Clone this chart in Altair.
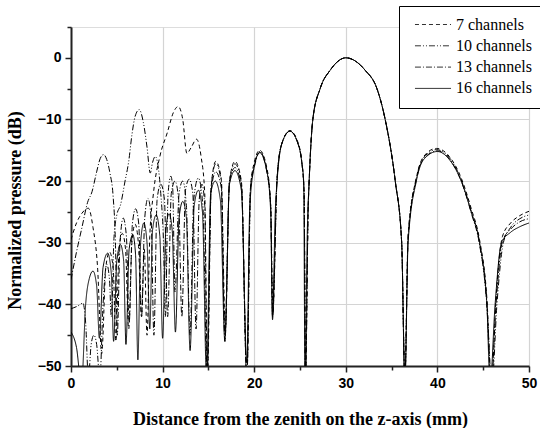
import altair as alt
import pandas as pd

# ---- data ----
series_names = ["7 channels", "10 channels", "13 channels", "16 channels"]

x_7 = [0, 0.6, 1.2, 1.9, 2.4, 2.9, 3.35, 3.8, 4.2, 4.6, 4.9, 5.25, 5.6, 5.95, 6.3, 6.65, 7.0, 7.35, 7.7, 8.0, 8.3,
       8.6, 9.0, 9.7, 10.5, 11.2, 11.7, 12.2, 12.65, 13.1, 13.7, 14.2, 14.6, 14.9, 15.3, 15.8, 16.4, 16.85, 17.3,
       17.9, 18.6, 19.2, 19.6, 20.0, 20.6, 21.4, 21.8, 22.05, 22.5, 23.0, 23.9, 24.7, 25.2, 25.45, 25.6, 25.9,
       26.0, 26.4, 27.2, 28.3, 30.0, 32.1, 33.4, 34.3, 35.4, 36.1, 36.45, 36.8, 37.7, 38.5, 39.9, 41.3, 42.6,
       43.7, 44.6, 45.4, 45.9, 46.4, 47.1, 48.0, 49.0, 50.0]
y_7 = [-29.5, -26.8, -25.2, -24.4, -27.5, -34, -48, -34, -31.5, -34, -46, -31, -28.5, -31, -44, -30, -27, -30, -42,
       -31, -45, -29, -22, -16, -12.2, -8.8, -7.9, -10, -15.5, -14.6, -13.2, -16, -22, -52, -21, -16.8, -19.5, -44,
       -20, -16.8, -20, -52, -21, -17, -15.0, -18, -24, -41, -19.5, -14, -11.8, -13.4, -17, -22, -52, -24,
       -20, -10, -5, -2, 0, -2, -5, -10, -20, -30, -52, -29, -19.5, -16, -14.7, -16, -19.5,
       -24.5, -29.5, -39, -53, -39, -29, -26.8, -25.6, -24.9]

x_10 = [0, 0.7, 1.3, 1.6, 1.9, 2.2, 2.5, 2.8, 3.15, 3.5, 3.9, 4.2, 4.4, 4.7, 5.0, 5.4, 5.9, 6.3, 6.65, 7.0, 7.45,
        7.9, 8.3, 8.65, 8.9, 9.2, 9.5, 9.8, 10.1, 10.3, 10.6, 10.9, 11.1, 11.35, 11.8, 12.2, 12.6, 13.0, 13.4, 13.9,
        14.4, 14.85, 15.3, 15.8, 16.4, 16.8, 17.3, 17.9, 18.6, 19.2, 19.6, 20.0, 20.6, 21.4, 21.8, 22.0, 22.5,
        23.0, 23.9, 24.7, 25.2, 25.45, 25.6, 25.9, 26.0, 26.4, 27.2, 28.3, 30.0, 32.1, 33.4, 34.3, 35.4, 36.1,
        36.45, 36.8, 37.7, 38.5, 39.9, 41.3, 42.6, 43.7, 44.6, 45.4, 45.95, 46.5, 47.2, 48.0, 49.0, 50.0]
y_10 = [-40.7, -40.3, -39.8, -43, -52, -46.5, -45, -46.5, -52, -40, -33.5, -36, -42, -29, -25.5, -23.9, -20, -16.8,
        -12.5, -9.5, -8.4, -10.5, -14.5, -18.7, -17, -16, -17.5, -22, -30, -42, -22, -19.2, -21, -38, -22, -20,
        -24, -45, -23, -19.5, -24, -52, -21, -17.2, -20, -45, -20, -17.2, -20.3, -52, -21, -17.5, -15.2, -18.5,
        -24, -42, -19.5, -14, -11.9, -13.6, -17, -22, -52, -24, -20, -10, -5, -2, 0, -2, -5, -10, -20, -30,
        -52, -29, -19.5, -16.2, -14.9, -16.2, -19.8, -25, -30, -40, -53, -40, -30, -27.5, -26.1, -25.5]

x_13 = [0, 0.6, 1.2, 1.8, 2.3, 2.8, 3.2, 3.55, 3.9, 4.25, 4.6, 4.85, 5.05, 5.35, 5.7, 6.05, 6.35, 6.7, 7.05, 7.4,
        7.7, 8.05, 8.4, 8.75, 9.05, 9.4, 9.8, 10.2, 10.55, 10.95, 11.35, 11.75, 12.1, 12.5, 12.9, 13.3, 13.65,
        14.0, 14.3, 14.6, 14.85, 15.3, 15.8, 16.4, 16.8, 17.3, 17.9, 18.6, 19.2, 19.6, 20.0, 20.6, 21.4, 21.8,
        22.0, 22.5, 23.0, 23.9, 24.7, 25.2, 25.45, 25.6, 25.9, 26.0, 26.4, 27.2, 28.3, 30.0, 32.1, 33.4, 34.3,
        35.4, 36.1, 36.45, 36.8, 37.7, 38.5, 40.0, 41.3, 42.6, 43.7, 44.6, 45.4, 45.85, 46.4, 47.1, 48.0, 49.0, 50.0]
y_13 = [-36, -31.5, -27.5, -23.5, -21.7, -18.5, -16.3, -15.7, -16.5, -18.7, -22.5, -30, -45, -30, -26, -29, -43,
        -27, -24.5, -27, -42, -26, -22.8, -26, -45, -23, -20.5, -23, -42, -22, -20, -23, -42, -21.5, -19.7, -22,
        -44, -23, -20.5, -24, -52, -21.5, -18.5, -21, -46, -20.3, -17.8, -20.8, -52, -21, -17.8, -15.3, -18.7,
        -24, -42, -19.5, -14, -11.9, -13.6, -17, -22, -52, -24, -20, -10, -5, -2, 0, -2, -5, -10,
        -20, -30, -52, -29.5, -19.8, -16.4, -15.1, -16.4, -20, -25.2, -30.3, -40, -53, -40, -29.8, -27.8, -26.6, -26.1]

x_16 = [0, 0.6, 1.15, 1.6, 2.0, 2.4, 2.8, 3.1, 3.5, 4.0, 4.4, 4.65, 5.0, 5.4, 5.75, 6.0, 6.35, 6.75, 7.05, 7.3, 7.6,
        7.95, 8.3, 8.6, 8.9, 9.3, 9.7, 10.0, 10.35, 10.7, 11.05, 11.4, 11.8, 12.2, 12.6, 13.0, 13.45, 13.9, 14.35,
        14.8, 15.25, 15.75, 16.3, 16.8, 17.3, 17.9, 18.6, 19.2, 19.5, 19.9, 20.6, 21.4, 21.8, 22.0, 22.3, 22.5,
        23.0, 23.9, 24.7, 25.2, 25.4, 25.55, 25.8, 26.0, 26.4, 27.2, 28.3, 30.0, 32.1, 33.4, 34.3, 35.4, 36.1,
        36.45, 36.8, 37.7, 38.5, 40.0, 41.3, 42.6, 43.7, 44.6, 45.4, 45.75, 46.3, 47.0, 48.0, 49.0, 50.0]
y_16 = [-44.5, -47, -53, -40, -35.8, -34.6, -37, -45.5, -34, -31.7, -35, -46, -33, -30.3, -33, -46.5, -31, -28.7,
        -32, -49, -30, -26.8, -30, -44, -28, -25.5, -29, -45.5, -28, -25.3, -28, -44.5, -26, -23.3, -26, -47.5,
        -24, -21.5, -25, -52, -22, -20, -23, -46, -20.5, -18.3, -21.5, -49.5, -25, -18.5, -15.4, -18.5, -25,
        -42.5, -25, -20, -14, -11.9, -13.6, -17, -20, -53, -28, -20, -10, -5, -2, 0, -2, -5, -10, -20, -30,
        -53, -30, -20, -16.5, -15.2, -16.5, -20, -25, -30, -40, -53, -40, -30, -28.3, -27.4, -26.8]

x_ticks = [0, 5, 10, 15, 20, 25, 30, 35, 40, 45, 50]
y_ticks = [-50, -45, -40, -35, -30, -25, -20, -15, -10, -5, 0, 5]
dash_styles = [[4, 3], [6, 2, 1, 2, 1, 2], [6, 2, 1, 2], [1, 0]]

rows = []
for name, xs, ys in zip(series_names, [x_7, x_10, x_13, x_16], [y_7, y_10, y_13, y_16]):
    for xv, yv in zip(xs, ys):
        rows.append({"series": name, "x": xv, "y": yv})
df = pd.DataFrame(rows)

major = "datum.value % 10 === 0"

x_axis = alt.Axis(
    values=x_ticks,
    labelExpr="datum.value % 10 === 0 ? datum.label : ''",
    title="Distance from the zenith on the z-axis (mm)",
    titleFont="Liberation Serif", titleFontSize=18, titleFontWeight="bold", titleColor="black",
    titlePadding=20,
    labelFont="Liberation Sans", labelFontSize=14, labelFontWeight="bold", labelColor="black",
    labelPadding=4, labelFlush=False,
    domainColor="#222", domainWidth=2,
    tickColor="#222", tickWidth=1.5,
    tickSize={"condition": {"test": major, "value": 6}, "value": 4},
    grid=True, gridColor="#d4d4d4", gridWidth=1.2,
    gridOpacity={"condition": {"test": major, "value": 1}, "value": 0},
)
y_axis = alt.Axis(
    values=y_ticks,
    labelExpr="datum.value % 10 === 0 && datum.value <= 0 ? datum.label : ''",
    title="Normalized pressure (dB)",
    titleFont="Liberation Serif", titleFontSize=18, titleFontWeight="bold", titleColor="black",
    titlePadding=13, titleY=183,
    labelFont="Liberation Sans", labelFontSize=14, labelFontWeight="bold", labelColor="black",
    labelPadding=4, labelFlush=False,
    domainColor="#222", domainWidth=2,
    tickColor="#222", tickWidth=1.5,
    tickSize={"condition": {"test": major, "value": 6}, "value": 4},
    grid=True, gridColor="#d4d4d4", gridWidth=1.2,
    gridOpacity={"condition": {"test": major + " && datum.value < 0", "value": 1}, "value": 0},
)

chart = alt.Chart(df).mark_line(
    clip=True, interpolate="monotone", color="black", strokeWidth=1
).encode(
    x=alt.X("x:Q", scale=alt.Scale(domain=[0, 50], nice=False), axis=x_axis),
    y=alt.Y("y:Q", scale=alt.Scale(domain=[-50, 5], nice=False, zero=False), axis=y_axis),
    strokeDash=alt.StrokeDash(
        "series:N",
        scale=alt.Scale(domain=series_names, range=dash_styles),
        sort=series_names,
        legend=alt.Legend(
            title=None, orient="none", legendX=328, legendY=-21,
            symbolType="stroke", symbolSize=1300, symbolStrokeWidth=1, symbolStrokeColor="#333",
            symbolOffset=4, labelOffset=4, clipHeight=15,
            labelFont="Liberation Serif", labelFontSize=16, labelColor="black",
            rowPadding=4.3, padding=11,
            fillColor="white", strokeColor="black",
        ),
    ),
    detail="series:N",
).properties(
    width=458, height=339,
    autosize=alt.AutoSizeParams(type="none"),
    padding={"left": 71, "top": 27, "right": 11, "bottom": 62},
).configure_view(stroke=None).configure_legend(
    labelFont="Liberation Serif"
).configure(background="white")

chart.save("out.html", embed_options={"renderer": "svg", "actions": False})
